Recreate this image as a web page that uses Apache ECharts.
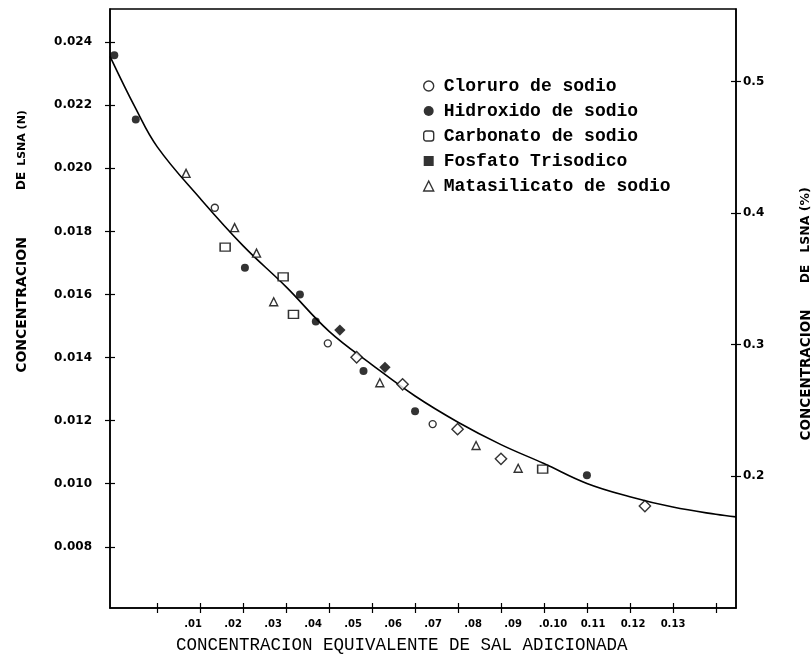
<!DOCTYPE html>
<html><head><meta charset="utf-8">
<script src="https://cdn.jsdelivr.net/npm/echarts@6/dist/echarts.min.js"></script>
<style>html,body{margin:0;padding:0;background:#fff}#c{width:812px;height:660px}</style>
</head><body><div id="c"></div>
<script>
// ---- data ----
const cloruro      = [[0.0234,0.01875],[0.0497,0.01445],[0.0741,0.01189]];
const hidroxido    = [[0.0000,0.02358],[0.0050,0.02155],[0.0304,0.01685],[0.0432,0.01600],[0.0469,0.01514],[0.0580,0.01357],[0.0700,0.01230],[0.1100,0.01027]];
const carbonatoA   = [[0.0258,0.01750],[0.0393,0.01656],[0.0417,0.01537],[0.0997,0.01046]];
const carbonatoB   = [[0.0564,0.01401],[0.0671,0.01315],[0.0799,0.01173],[0.0900,0.01079],[0.1235,0.00929]];
const fosfato      = [[0.0525,0.01487],[0.0630,0.01369]];
const matasilicato = [[0.0167,0.01984],[0.0280,0.01812],[0.0331,0.01731],[0.0371,0.01577],[0.0618,0.01320],[0.0842,0.01121],[0.0940,0.01049]];
const curveX = [-0.001, 0.005, 0.01, 0.02, 0.03, 0.04, 0.05, 0.06, 0.07, 0.08, 0.09, 0.10, 0.11, 0.12, 0.13, 0.14, 0.1447];
const curveY = [0.02355, 0.02189, 0.02068, 0.01904, 0.01754, 0.01624, 0.01483, 0.01377, 0.01278, 0.01195, 0.01124, 0.01064, 0.01001, 0.00959, 0.00926, 0.00903, 0.00895];

const xTicks = [0.01,0.02,0.03,0.04,0.05,0.06,0.07,0.08,0.09,0.10,0.11,0.12,0.13,0.14];
const xTickLabels = ['.01','.02','.03','.04','.05','.06','.07','.08','.09','.0.10','0.11','0.12','0.13'];
const yLeftTicks = [0.008,0.010,0.012,0.014,0.016,0.018,0.020,0.022,0.024];
const yLeftLabels = ['0.008','0.010','0.012','0.014','0.016','0.018','0.020','0.022','0.024'];
const yRightTicks = [0.2,0.3,0.4,0.5];
const yRightLabels = ['0.2','0.3','0.4','0.5'];

const names = ['Cloruro de sodio','Hidroxido de sodio','Carbonato de sodio','Fosfato Trisodico','Matasilicato de sodio'];

const chart = echarts.init(document.getElementById('c'), null, {renderer:'canvas'});
const BLK = '#000';
const labelFont = {color:BLK, fontFamily:'DejaVu Sans', fontWeight:'bold', fontSize:12};
const X_MIN = -0.001, X_MAX = 0.1447;
const Y_MIN = 0.00606, Y_MAX = 0.02505;

const open = {color:'#fff', borderColor:BLK, borderWidth:1.4};
const filled = {color:BLK, borderColor:BLK, borderWidth:0};
const tf = (s)=>'bold '+s+'px "DejaVu Sans"';

chart.setOption({
  backgroundColor:'#fff',
  animation:false,
  grid:{left:110, right:76, top:9, bottom:52, show:true, borderColor:BLK, borderWidth:1.5, backgroundColor:'transparent'},
  legend:{
    orient:'vertical', left:418, top:72, itemWidth:10, itemHeight:10, itemGap:7,
    symbolRotate:0,
    textStyle:{fontFamily:'Liberation Mono', fontWeight:'bold', fontSize:18, color:BLK, lineHeight:18, padding:[0,0,0,5]},
    data:[
      {name:names[0], icon:'circle', itemStyle:open},
      {name:names[1], icon:'circle', itemStyle:filled},
      {name:names[2], icon:'roundRect', itemStyle:open},
      {name:names[3], icon:'rect', itemStyle:filled},
      {name:names[4], icon:'triangle', itemStyle:open}
    ]
  },
  xAxis:[
    {type:'value', min:X_MIN, max:X_MAX, position:'bottom',
     axisLine:{show:true, onZero:false, lineStyle:{color:BLK, width:1.5}},
     axisTick:{show:true, customValues:xTicks, length:5, inside:false, lineStyle:{color:BLK, width:1.2}},
     axisLabel:{show:false}, splitLine:{show:false}},
    {type:'value', min:X_MIN, max:X_MAX, position:'bottom',
     axisLine:{show:false, onZero:false},
     axisTick:{show:true, customValues:xTicks, length:5, inside:true, lineStyle:{color:BLK, width:1.2}},
     axisLabel:{show:false}, splitLine:{show:false}},
    // label row (the typed labels sit slightly off the tick marks in the reference)
    {type:'value', min:-0.01075, max:0.14575, position:'bottom',
     axisLine:{show:false, onZero:false}, axisTick:{show:false}, splitLine:{show:false},
     axisLabel:{show:true, customValues:xTicks.slice(0,13), margin:11, fontSize:10,
       color:BLK, fontFamily:'DejaVu Sans', fontWeight:'bold',
       formatter:function(v){ return xTickLabels[Math.round(v*100)-1]; }}}
  ],
  yAxis:[
    {type:'value', min:Y_MIN, max:Y_MAX, position:'left',
     axisLine:{show:true, onZero:false, lineStyle:{color:BLK, width:1.5}},
     axisTick:{show:true, customValues:yLeftTicks, length:5, inside:false, lineStyle:{color:BLK, width:1.2}},
     axisLabel:Object.assign({show:true, customValues:yLeftTicks, margin:18,
       formatter:function(v){ const i = Math.round((v-0.008)/0.002); return yLeftLabels[i]; }}, labelFont),
     splitLine:{show:false}},
    {type:'value', min:Y_MIN, max:Y_MAX, position:'left',
     axisLine:{show:false, onZero:false},
     axisTick:{show:true, customValues:yLeftTicks, length:5, inside:true, lineStyle:{color:BLK, width:1.2}},
     axisLabel:{show:false}, splitLine:{show:false}},
    {type:'value', min:0.1, max:0.555, position:'right',
     axisLine:{show:true, onZero:false, lineStyle:{color:BLK, width:1.5}},
     axisTick:{show:true, customValues:yRightTicks, length:5, inside:false, lineStyle:{color:BLK, width:1.2}},
     axisLabel:Object.assign({show:true, customValues:yRightTicks, margin:7,
       formatter:function(v){ return yRightLabels[Math.round(v*10)-2]; }}, labelFont),
     splitLine:{show:false}},
    {type:'value', min:0.1, max:0.555, position:'right',
     axisLine:{show:false, onZero:false},
     axisTick:{show:true, customValues:yRightTicks, length:5, inside:true, lineStyle:{color:BLK, width:1.2}},
     axisLabel:{show:false}, splitLine:{show:false}}
  ],
  graphic:[
    {type:'text', x:22, y:305, rotation:Math.PI/2, style:{text:'CONCENTRACION', font:tf(14), fill:BLK, textAlign:'center', textVerticalAlign:'middle'}},
    {type:'text', x:22, y:181, rotation:Math.PI/2, style:{text:'DE', font:tf(12), fill:BLK, textAlign:'center', textVerticalAlign:'middle'}},
    {type:'text', x:22, y:138, rotation:Math.PI/2, style:{text:'LSNA (N)', font:tf(11), fill:BLK, textAlign:'center', textVerticalAlign:'middle'}},
    {type:'text', x:806, y:375, rotation:Math.PI/2, style:{text:'CONCENTRACION', font:tf(13.5), fill:BLK, textAlign:'center', textVerticalAlign:'middle'}},
    {type:'text', x:806, y:274, rotation:Math.PI/2, style:{text:'DE', font:tf(12), fill:BLK, textAlign:'center', textVerticalAlign:'middle'}},
    {type:'text', x:806, y:220, rotation:Math.PI/2, style:{text:'LSNA (%)', font:tf(12.5), fill:BLK, textAlign:'center', textVerticalAlign:'middle'}},
    {type:'text', x:176, y:645, style:{text:'CONCENTRACION EQUIVALENTE DE SAL ADICIONADA', font:'17.5px "Liberation Mono"', fill:BLK, textAlign:'left', textVerticalAlign:'middle'}}
  ],
  series:[
    {type:'line', name:'curva', data:curveX.map((x,i)=>[x,curveY[i]]), smooth:0.4, symbol:'none',
     lineStyle:{color:BLK, width:1.6}, z:1, silent:true},
    {type:'scatter', name:names[0], data:cloruro, symbol:'circle', symbolSize:7, itemStyle:open, z:3},
    {type:'scatter', name:names[1], data:hidroxido, symbol:'circle', symbolSize:8, itemStyle:filled, z:3},
    {type:'scatter', name:names[2], data:carbonatoA, symbol:'rect', symbolSize:[10,8], itemStyle:open, z:3},
    {type:'scatter', name:names[2], data:carbonatoB, symbol:'rect', symbolSize:8, symbolRotate:45, itemStyle:open, z:3},
    {type:'scatter', name:names[3], data:fosfato, symbol:'rect', symbolSize:8, symbolRotate:45, itemStyle:filled, z:3},
    {type:'scatter', name:names[4], data:matasilicato, symbol:'triangle', symbolSize:8, itemStyle:open, z:3}
  ]
});
</script></body></html>
